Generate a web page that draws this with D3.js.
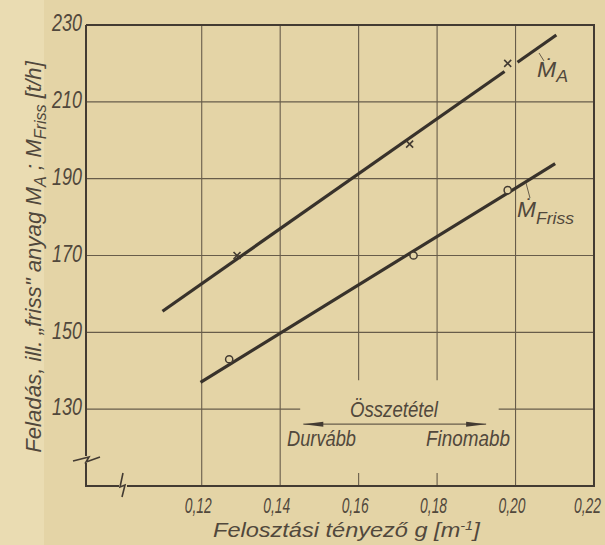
<!DOCTYPE html>
<html>
<head>
<meta charset="utf-8">
<script src="https://cdn.jsdelivr.net/npm/d3@7"></script>
<style>
  body { margin: 0; background: #e4d4a6; }
  svg { display: block; }
  text { font-family: "Liberation Sans", "DejaVu Sans", sans-serif; font-style: italic; fill: #51483c; }
</style>
</head>
<body>
<div id="chart"></div>
<script>
// values
var xTicks = [0.12, 0.14, 0.16, 0.18, 0.20, 0.22];
var yTicks = [130, 150, 170, 190, 210, 230];

// measured points (x marks = M_A, circles = M_Friss)
var gA = [0.129, 0.173, 0.198];
var mA = [170, 199, 220];
var gF = [0.127, 0.174, 0.198];
var mF = [143, 170, 187];

// straight lines drawn through the points, [g, M] end points of each piece
var lineA1 = [[0.110, 155.5], [0.1972, 217.9]];
var lineA2 = [[0.2005, 220.3], [0.2104, 227.4]];
var lineF = [[0.1197, 137.0], [0.2101, 193.9]];

var svgWidth = 605;
var svgHeight = 545;

var margin = { top: 25, right: 11, bottom: 59, left: 86 };
var chartWidth = svgWidth - margin.left - margin.right;
var chartHeight = svgHeight - margin.top - margin.bottom;

var ink = "#433b32";
var gridInk = "#675c4a";
var textInk = "#51483c";

var svg = d3.select("#chart").append("svg")
    .attr("width", svgWidth)
    .attr("height", svgHeight);

// slightly lighter paper strip on the left edge of the scan
svg.append("rect").attr("x", 0).attr("y", 0).attr("width", 44).attr("height", svgHeight)
    .attr("fill", "#eadcb2");

var chartGroup = svg.append("g")
    .attr("transform", `translate(${margin.left}, ${margin.top})`);

var xScale = d3.scaleLinear().domain([0.0905, 0.22]).range([0, chartWidth]);
var yScale = d3.scaleLinear().domain([110, 230]).range([chartHeight, 0]);

var comma = d3.formatLocale({ decimal: ",", thousands: ".", grouping: [3], currency: ["", ""] });

// narrow lettering: squeeze a text horizontally to a given width
function narrowText(parent, x, y, size, width, pre) {
    var t = parent.append("text").style("font-size", size + "px");
    if (typeof pre === "string") t.text(pre); else pre(t);
    var s = width / t.node().getComputedTextLength();
    t.attr("transform", `translate(${x}, ${y}) scale(${s}, 1)`);
    return t;
}

// grid, with the gaps left for the "Összetétel" note
var vGaps = { "0.16": [113.4, 137.5], "0.18": [113.4, 137.5] };
xTicks.slice(0, 5).forEach(function (g) {
    var gap = vGaps[String(g)];
    var parts = gap ? [[110, gap[0]], [gap[1], 230]] : [[110, 230]];
    parts.forEach(function (p) {
        chartGroup.append("line")
            .attr("x1", xScale(g)).attr("x2", xScale(g))
            .attr("y1", yScale(p[0])).attr("y2", yScale(p[1]))
            .attr("stroke", gridInk).attr("stroke-width", 1.1);
    });
});
yTicks.slice(0, 5).forEach(function (m) {
    var parts = m === 130 ? [[0.0905, 0.1451], [0.1957, 0.22]] : [[0.0905, 0.22]];
    parts.forEach(function (p) {
        chartGroup.append("line")
            .attr("x1", xScale(p[0])).attr("x2", xScale(p[1]))
            .attr("y1", yScale(m)).attr("y2", yScale(m))
            .attr("stroke", gridInk).attr("stroke-width", 1.1);
    });
});

// axes (labels only, the frame is drawn by hand below)
var xAxis = d3.axisBottom(xScale).tickValues(xTicks).tickSize(0).tickPadding(11)
    .tickFormat(comma.format(".2f"));
var yAxis = d3.axisLeft(yScale).tickValues(yTicks).tickSize(0).tickPadding(4)
    .tickFormat(d3.format("d"));

var gx = chartGroup.append("g")
    .attr("transform", `translate(0, ${chartHeight})`)
    .call(xAxis);
var gy = chartGroup.append("g").call(yAxis);

[gx, gy].forEach(function (a) {
    a.select(".domain").remove();
    a.attr("font-family", null).attr("font-size", null);
    a.selectAll("text").attr("fill", textInk);
});
gx.selectAll("text").style("font-size", "22px");
gy.selectAll("text").style("font-size", "24px");

gx.selectAll("text").each(function (d) {
    var s = 27 / this.getComputedTextLength();
    var shift = d === 0.22 ? -7 : -4;
    d3.select(this).attr("transform", `translate(${shift}, 0) scale(${s}, 1)`);
});
gy.selectAll("text").each(function () {
    var s = 30 / this.getComputedTextLength();
    d3.select(this).attr("x", null).attr("transform", `translate(-4, -2) scale(${s}, 1)`);
});

// frame with break marks in the lower left corner
var x0 = 0, yb = chartHeight;
var frame = d3.path();
frame.moveTo(x0, 0);
frame.lineTo(chartWidth, 0);
frame.lineTo(chartWidth, yb);
frame.lineTo(41, yb);
frame.moveTo(33, yb);
frame.lineTo(x0, yb);
frame.lineTo(x0, yb - 23);
frame.moveTo(x0, yb - 30);
frame.lineTo(x0, 0);
chartGroup.append("path").attr("d", frame.toString())
    .attr("fill", "none").attr("stroke", ink).attr("stroke-width", 2);

chartGroup.append("path")
    .attr("d", `M-13,${yb - 25} L3,${yb - 29} L0,${yb - 24} L14,${yb - 29}`)
    .attr("fill", "none").attr("stroke", ink).attr("stroke-width", 1.6);
chartGroup.append("path")
    .attr("d", `M37,${yb - 13} L34,${yb + 1} L39,${yb - 1} L36,${yb + 11}`)
    .attr("fill", "none").attr("stroke", ink).attr("stroke-width", 1.6);

// fitted lines
var lineGen = d3.line().x(d => xScale(d[0])).y(d => yScale(d[1]));
[lineA1, lineA2, lineF].forEach(function (seg) {
    chartGroup.append("path")
        .attr("d", lineGen(seg))
        .attr("fill", "none")
        .attr("stroke", "#38322b")
        .attr("stroke-width", 3.2);
});

// x markers
chartGroup.selectAll(".crossA")
    .data(gA.map((g, i) => [g, mA[i]]))
    .enter()
    .append("path")
    .attr("class", "crossA")
    .attr("transform", d => `translate(${xScale(d[0])}, ${yScale(d[1])})`)
    .attr("d", "M-3.5,-3.5L3.5,3.5M-3.5,3.5L3.5,-3.5")
    .attr("stroke", ink)
    .attr("stroke-width", 1.6);

// open circle markers
chartGroup.selectAll(".circF")
    .data(gF.map((g, i) => [g, mF[i]]))
    .enter()
    .append("circle")
    .attr("class", "circF")
    .attr("cx", d => xScale(d[0]))
    .attr("cy", d => yScale(d[1]))
    .attr("r", 3.6)
    .attr("fill", "#e4d4a6")
    .attr("stroke", ink)
    .attr("stroke-width", 1.5);

// curve labels with leader strokes
var px = d => xScale(d) + margin.left;
var py = d => yScale(d) + margin.top;

svg.append("line").attr("x1", 539).attr("y1", 53).attr("x2", 544).attr("y2", 61)
    .attr("stroke", gridInk).attr("stroke-width", 1);
narrowText(svg, 537, 77, 22, 31, function (t) {
    t.append("tspan").text("Ṁ");
    t.append("tspan").attr("dy", 5).style("font-size", "17px").text("A");
});

svg.append("line").attr("x1", 526).attr("y1", 183).attr("x2", 530).attr("y2", 198)
    .attr("stroke", gridInk).attr("stroke-width", 1);
narrowText(svg, 517, 217, 22, 57, function (t) {
    t.append("tspan").text("Ṁ");
    t.append("tspan").attr("dy", 7).style("font-size", "17px").text("Friss");
});

// composition note with double arrow
var noteY = 126.1;
narrowText(svg, 350, py(noteY) - 7, 22, 88, "Összetétel");
svg.append("line")
    .attr("x1", px(0.1459)).attr("x2", px(0.1925))
    .attr("y1", py(noteY)).attr("y2", py(noteY))
    .attr("stroke", gridInk).attr("stroke-width", 1.1);
svg.append("path")
    .attr("d", `M${px(0.1459)},${py(noteY)} l20,-2.5 l0,5 z`)
    .attr("fill", ink);
svg.append("path")
    .attr("d", `M${px(0.1925)},${py(noteY)} l-20,-2.5 l0,5 z`)
    .attr("fill", ink);
narrowText(svg, 287, 446, 22, 69, "Durvább");
narrowText(svg, 426, 446, 22, 84, "Finomabb");

// axis titles
var yt = svg.append("text").style("font-size", "22px").attr("text-anchor", "middle");
yt.append("tspan").text("Feladás, ill. „friss\" anyag M");
yt.append("tspan").attr("dy", 5).style("font-size", "16px").text("A");
yt.append("tspan").attr("dy", -5).text(" ; M");
yt.append("tspan").attr("dy", 5).style("font-size", "16px").text("Friss");
yt.append("tspan").attr("dy", -5).text(" [t/h]");
var ys = 392 / yt.node().getComputedTextLength();
yt.attr("transform", `translate(41, 257) rotate(-90) scale(${ys}, 1)`);

narrowText(svg, 213, 537, 21, 267, function (t) {
    t.append("tspan").text("Felosztási  tényező  g  [m");
    t.append("tspan").attr("dy", -7).style("font-size", "13px").text("-1");
    t.append("tspan").attr("dy", 7).text("]");
});
</script>
</body>
</html>
